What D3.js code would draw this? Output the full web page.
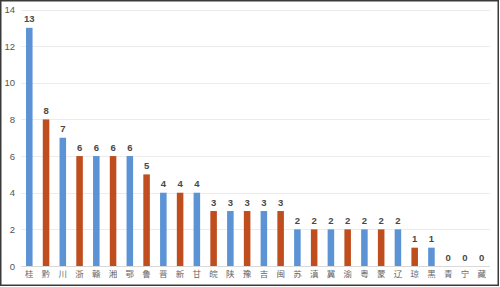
<!DOCTYPE html>
<html>
<head>
<meta charset="utf-8">
<script src="https://cdn.jsdelivr.net/npm/d3@7"></script>
<style>
  html, body { margin: 0; padding: 0; background: #fff; }
  svg { display: block; font-family: "Liberation Sans", "Noto Sans CJK SC", sans-serif; }
</style>
</head>
<body>
<div id="chart"></div>
<script>
const provinces = ['桂', '黔', '川', '浙', '赣', '湘', '鄂', '鲁', '晋', '新', '甘', '皖', '陕', '豫',
  '吉', '闽', '苏', '滇', '冀', '渝', '粤', '蒙', '辽', '琼', '黑', '青', '宁', '藏'];
const counts = [13, 8, 7, 6, 6, 6, 6, 5, 4, 4, 4, 3, 3, 3, 3, 3, 2, 2, 2, 2, 2, 2, 2, 1, 1, 0, 0, 0];
const yTicks = [0, 2, 4, 6, 8, 10, 12, 14];
const barColors = ['#5b93d4', '#bf4d1e'];

const width = 500;
const height = 287;
const margin = { top: 9.5, right: 10, bottom: 21, left: 21 };

const svg = d3.select('#chart')
  .append('svg')
  .attr('width', width)
  .attr('height', height);

// frame round the picture
svg.append('rect')
  .attr('x', 0.75)
  .attr('y', 0.75)
  .attr('width', width - 2.5)
  .attr('height', height - 2.5)
  .attr('fill', 'none')
  .attr('stroke', '#3a3a3a')
  .attr('stroke-width', 1.5);

const xScale = d3.scaleBand()
  .domain(provinces)
  .range([margin.left, width - margin.right])
  .paddingInner(0.61)
  .paddingOuter(0.3);

const yScale = d3.scaleLinear()
  .domain([0, 14])
  .range([height - margin.bottom, margin.top]);

// gridlines
svg.append('g')
  .selectAll('line')
  .data(yTicks)
  .enter()
  .append('line')
  .attr('x1', margin.left)
  .attr('x2', width - margin.right)
  .attr('y1', d => Math.round(yScale(d)) + 0.5)
  .attr('y2', d => Math.round(yScale(d)) + 0.5)
  .attr('stroke', d => d === 0 ? '#d9d9d9' : '#ececec')
  .attr('stroke-width', 1);

const yAxis = d3.axisLeft(yScale)
  .tickValues(yTicks)
  .tickSize(0)
  .tickPadding(6);

svg.append('g')
  .attr('transform', `translate(${margin.left}, 0)`)
  .call(yAxis)
  .call(g => g.select('.domain').remove())
  .selectAll('text')
  .attr('font-family', '"Liberation Sans", sans-serif')
  .attr('font-size', 9.5)
  .attr('fill', '#555');

const xAxis = d3.axisBottom(xScale)
  .tickSize(0)
  .tickPadding(5);

svg.append('g')
  .attr('transform', `translate(0, ${height - margin.bottom})`)
  .call(xAxis)
  .call(g => g.select('.domain').remove())
  .selectAll('text')
  .attr('font-family', '"Noto Sans CJK SC", sans-serif')
  .attr('font-size', 8.5)
  .attr('fill', '#666');

svg.append('g')
  .selectAll('rect')
  .data(counts)
  .enter()
  .append('rect')
  .attr('x', (d, i) => xScale(provinces[i]))
  .attr('y', d => yScale(d))
  .attr('width', xScale.bandwidth())
  .attr('height', d => yScale(0) - yScale(d))
  .attr('fill', (d, i) => barColors[i % 2]);

svg.append('g')
  .selectAll('text')
  .data(counts)
  .enter()
  .append('text')
  .attr('x', (d, i) => xScale(provinces[i]) + xScale.bandwidth() / 2)
  .attr('y', d => yScale(d) - 5.5)
  .attr('text-anchor', 'middle')
  .attr('font-family', '"Liberation Sans", sans-serif')
  .attr('font-size', 9.5)
  .attr('font-weight', 'bold')
  .attr('fill', '#484848')
  .text(d => d);
</script>
</body>
</html>
